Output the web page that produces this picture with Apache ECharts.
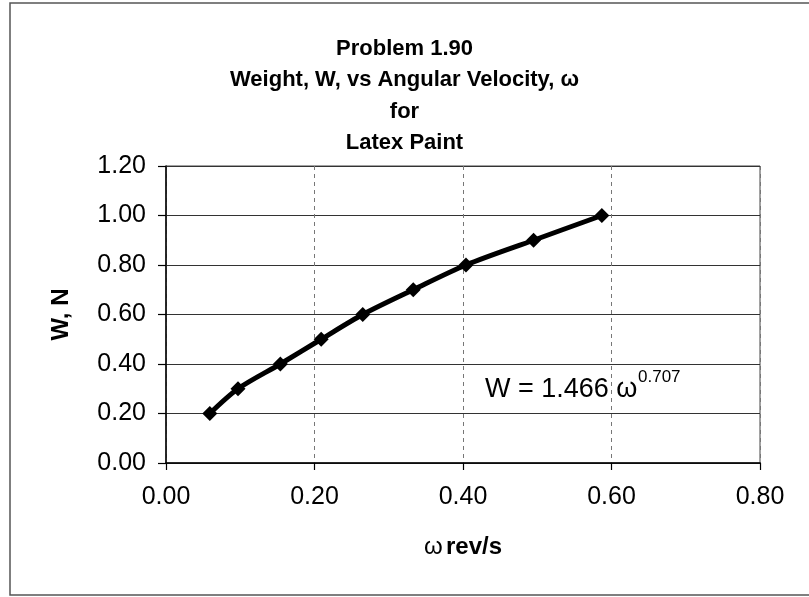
<!DOCTYPE html>
<html>
<head>
<meta charset="utf-8">
<script src="https://cdn.jsdelivr.net/npm/echarts@6/dist/echarts.min.js"></script>
<style>html,body{margin:0;padding:0;background:#fff;}#c{width:809px;height:597px;}</style>
</head>
<body>
<div id="c"></div>
<script>
// Data
const omega = [0.059, 0.097, 0.154, 0.209, 0.265, 0.333, 0.404, 0.495, 0.587];
const weight = [0.20, 0.30, 0.40, 0.50, 0.60, 0.70, 0.80, 0.90, 1.00];
const titleLines = ['Problem 1.90', 'Weight, W, vs Angular Velocity, ω', 'for', 'Latex Paint'];
const xTicks = { min: 0, max: 0.8, interval: 0.2 };
const yTicks = { min: 0, max: 1.2, interval: 0.2 };
const equation = 'W = 1.466 ω';
const exponent = '0.707';

const chart = echarts.init(document.getElementById('c'), null, { renderer: 'canvas' });
const pts = omega.map((x, i) => [x, weight[i]]);
const font = 'Arial, "Liberation Sans", sans-serif';

chart.setOption({
  backgroundColor: '#fff',
  animation: false,
  title: {
    text: titleLines.join('\n'),
    left: 'center',
    top: 28,
    textStyle: { fontFamily: font, fontSize: 22, fontWeight: 'bold', color: '#000', lineHeight: 31.5 }
  },
  grid: {
    left: 166, right: 49, top: 166, bottom: 134,
    show: true, borderColor: '#444', borderWidth: 1, backgroundColor: 'transparent'
  },
  xAxis: {
    type: 'value',
    min: xTicks.min, max: xTicks.max, interval: xTicks.interval,
    name: '{w|ω} {b|rev/s}',
    nameLocation: 'middle',
    nameGap: 72,
    nameTextStyle: {
      rich: {
        w: { fontFamily: font, fontSize: 24, color: '#000' },
        b: { fontFamily: font, fontSize: 24, fontWeight: 'bold', color: '#000' }
      }
    },
    axisLine: { show: true, lineStyle: { color: '#000', width: 1.5 } },
    axisTick: { show: true, length: 7, lineStyle: { color: '#000', width: 1.2 } },
    axisLabel: { margin: 22, fontFamily: font, fontSize: 25, color: '#000', formatter: v => v.toFixed(2) },
    splitLine: { show: true, lineStyle: { color: '#777', width: 1, type: [4, 4] } }
  },
  yAxis: {
    type: 'value',
    min: yTicks.min, max: yTicks.max, interval: yTicks.interval,
    name: 'W, N',
    nameLocation: 'middle',
    nameGap: 93,
    nameRotate: 90,
    nameTextStyle: { fontFamily: font, fontSize: 24, fontWeight: 'bold', color: '#000' },
    axisLine: { show: true, lineStyle: { color: '#000', width: 1.5 } },
    axisTick: { show: true, length: 8, lineStyle: { color: '#000', width: 1.2 } },
    axisLabel: { margin: 20, fontFamily: font, fontSize: 25, color: '#000', formatter: v => v.toFixed(2) },
    splitLine: { show: true, lineStyle: { color: '#333', width: 1 } }
  },
  series: [{
    type: 'line',
    data: pts,
    smooth: 0.3,
    symbol: 'diamond',
    symbolSize: 15,
    lineStyle: { color: '#000', width: 5 },
    itemStyle: { color: '#000' }
  }],
  graphic: [
    { type: 'rect', shape: { x: 10, y: 3, width: 805, height: 592 }, style: { fill: 'none', stroke: '#555', lineWidth: 1.5 }, silent: true },
    { type: 'text', left: 485, top: 376, style: { text: equation, font: '27px ' + font, fill: '#000' } },
    { type: 'text', left: 638, top: 369, style: { text: exponent, font: '17px ' + font, fill: '#000' } }
  ]
});
</script>
</body>
</html>
